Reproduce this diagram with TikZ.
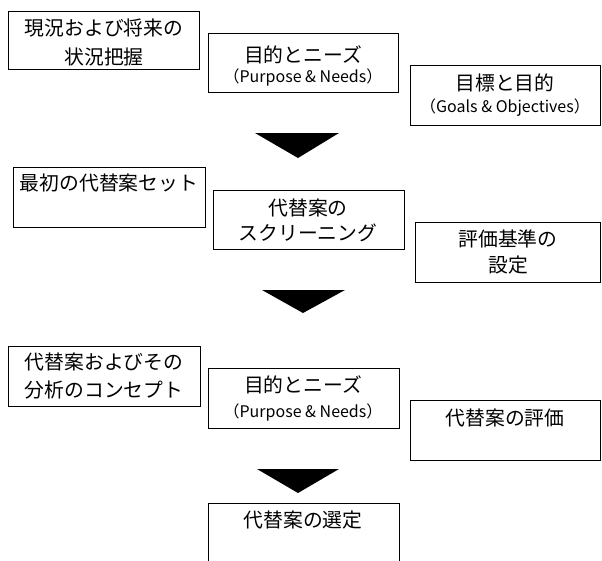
\documentclass[tikz,border=0pt]{standalone}
\usepackage{fontspec}
\setmainfont{Noto Sans CJK JP}
\begin{document}
\begin{tikzpicture}[x=1pt,y=-1pt,
  box/.style={draw, line width=1.4pt, inner sep=0pt, anchor=north west},
  jp/.style={font=\fontsize{19.8}{22}\selectfont, inner sep=0pt},
  en/.style={font=\fontsize{16}{18}\selectfont, inner sep=0pt},
  tri/.style={fill=black}]
\useasboundingbox (0,0) rectangle (602,560);
\clip (0,0) rectangle (602,560);
% row 1
\node[box, minimum width=191pt, minimum height=58pt] (b1) at (8,11) {};
\node[box, minimum width=190pt, minimum height=59pt] (b2) at (208,33) {};
\node[box, minimum width=190pt, minimum height=60pt] (b3) at (410,65) {};
\node[jp] (b1a) at (104,28) {現況および将来の};
\node[jp] (b1b) at (104,57) {状況把握};
\node[jp] (b2a) at (303,55) {目的とニーズ};
\node[en] (b2b) at (303,77) {（Purpose \& Needs）};
\node[jp] (b3a) at (505,83) {目標と目的};
\node[en] (b3b) at (505,108) {（Goals \& Objectives）};
\fill[tri] (255,133) coordinate (t1a) -- (339,133) coordinate (t1b) -- (298,158) coordinate (t1c) -- cycle;
% row 2
\node[box, minimum width=192pt, minimum height=60pt] (c1) at (13,167) {};
\node[box, minimum width=191pt, minimum height=59pt] (c2) at (213,190) {};
\node[box, minimum width=185pt, minimum height=60pt] (c3) at (415,222) {};
\node[jp] (c1a) at (109,183) {最初の代替案セット};
\node[jp] (c2a) at (308,208) {代替案の};
\node[jp] (c2b) at (308,233) {スクリーニング};
\node[jp] (c3a) at (508,239) {評価基準の};
\node[jp] (c3b) at (508,265) {設定};
\fill[tri] (262,290) coordinate (t2a) -- (345,290) coordinate (t2b) -- (303,313) coordinate (t2c) -- cycle;
% row 3
\node[box, minimum width=192pt, minimum height=60pt] (d1) at (8,346) {};
\node[box, minimum width=191pt, minimum height=60pt] (d2) at (208,368) {};
\node[box, minimum width=190pt, minimum height=60pt] (d3) at (410,400) {};
\node[jp] (d1a) at (104,362) {代替案およびその};
\node[jp] (d1b) at (104,390) {分析のコンセプト};
\node[jp] (d2a) at (303,385) {目的とニーズ};
\node[en] (d2b) at (303,412) {（Purpose \& Needs）};
\node[jp] (d3a) at (505,418) {代替案の評価};
\fill[tri] (257,469) coordinate (t3a) -- (339,469) coordinate (t3b) -- (298,493) coordinate (t3c) -- cycle;
% row 4
\node[box, minimum width=191pt, minimum height=80pt] (e1) at (208,503) {};
\node[jp] (e1a) at (303,520) {代替案の選定};
\end{tikzpicture}
\end{document}
